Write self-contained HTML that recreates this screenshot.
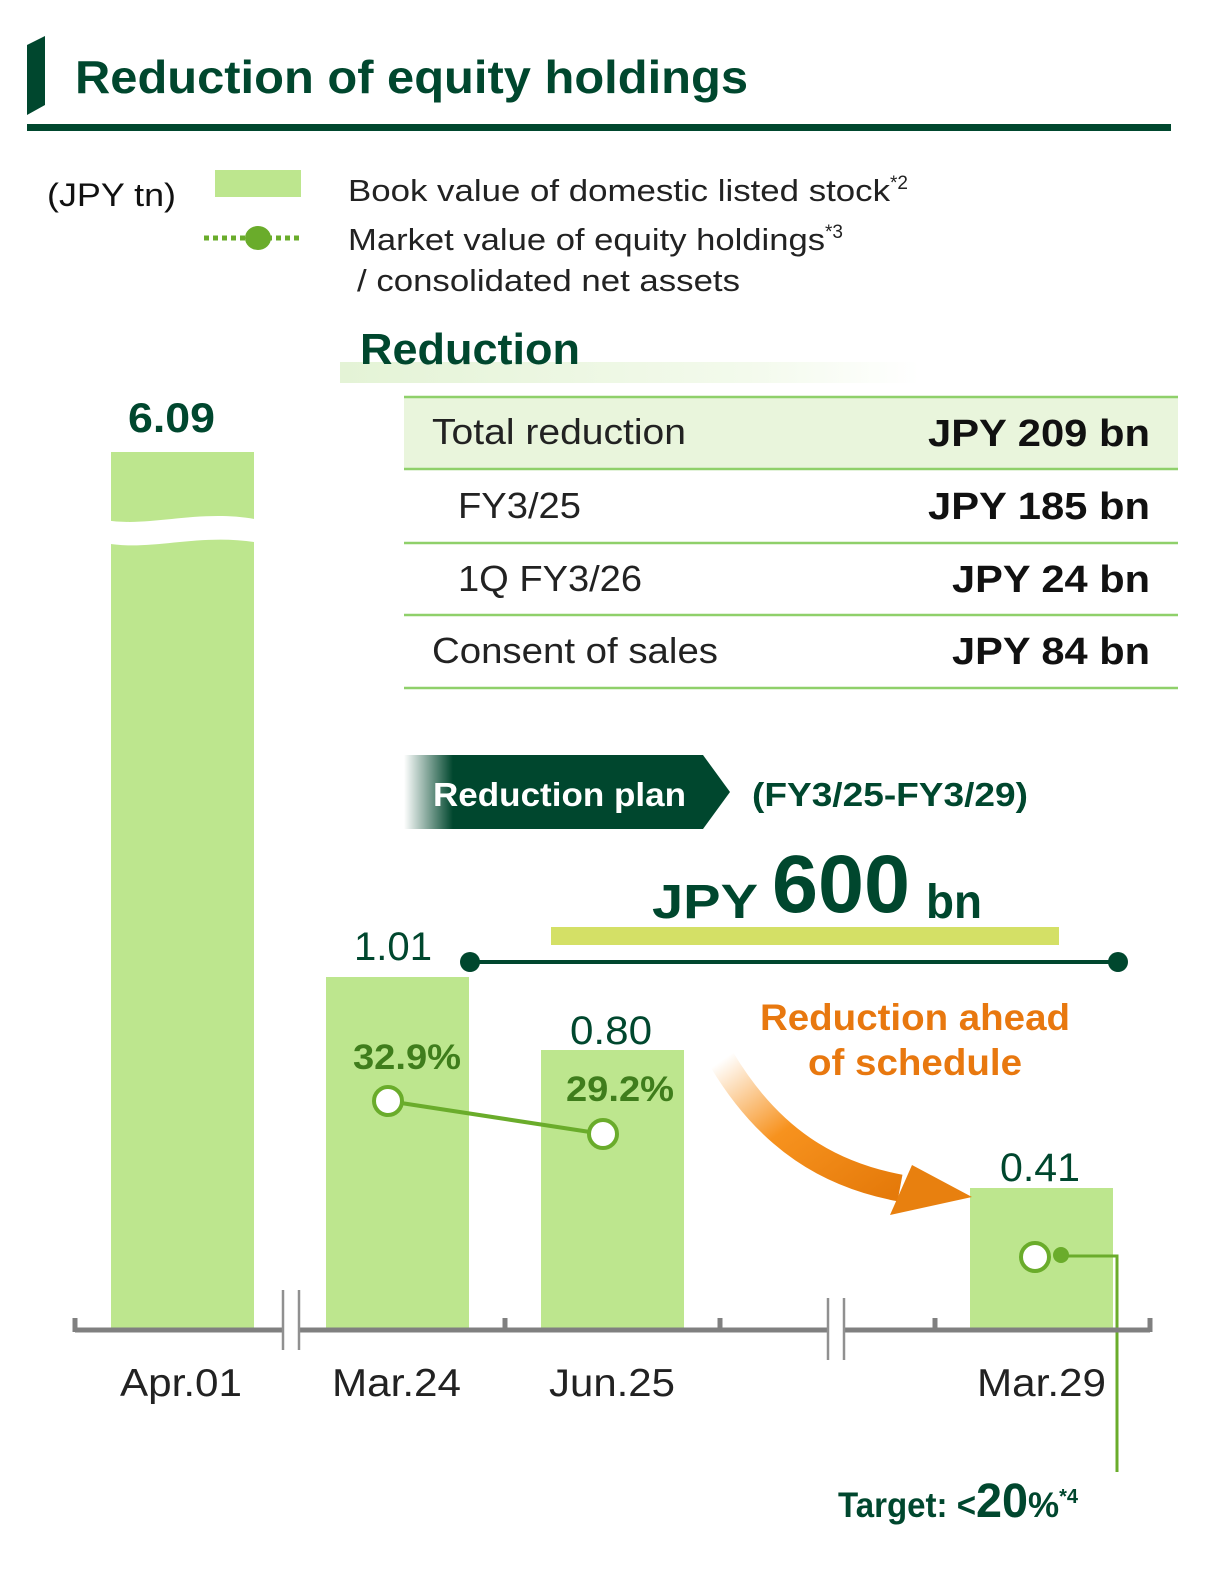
<!DOCTYPE html>
<html><head><meta charset="utf-8"><style>
html,body{margin:0;padding:0;background:#fff;width:1218px;height:1585px;overflow:hidden;}
svg{display:block;font-family:"Liberation Sans",Arial,sans-serif;}
</style></head><body>
<svg width="1218" height="1585" viewBox="0 0 1218 1585" xmlns="http://www.w3.org/2000/svg">
<defs>
<linearGradient id="rg" x1="0" x2="1" y1="0" y2="0">
<stop offset="0" stop-color="#e4f3d6"/><stop offset="0.7" stop-color="#f3faec"/><stop offset="1" stop-color="#fff"/>
</linearGradient>
<linearGradient id="bn" x1="0" x2="1" y1="0" y2="0">
<stop offset="0" stop-color="#00472e" stop-opacity="0"/><stop offset="0.15" stop-color="#00472e"/><stop offset="1" stop-color="#00472e"/>
</linearGradient>
<linearGradient id="og" x1="0" x2="1" y1="0" y2="1">
<stop offset="0" stop-color="#f7921e" stop-opacity="0"/><stop offset="0.45" stop-color="#f7921e"/><stop offset="1" stop-color="#e57a0a"/>
</linearGradient>
</defs>
<polygon points="27,45 45,36 45,105 27,115" fill="#00472e"/>
<text x="75" y="93" font-size="46" font-weight="bold" fill="#00472e" textLength="673" lengthAdjust="spacingAndGlyphs">Reduction of equity holdings</text>
<rect x="27" y="124" width="1144" height="7" fill="#00472e"/>
<text x="47" y="206" font-size="32" fill="#111" textLength="129" lengthAdjust="spacingAndGlyphs">(JPY tn)</text>
<rect x="215" y="170" width="86" height="27" fill="#bde68e"/>
<line x1="204" y1="238" x2="302" y2="238" stroke="#6aac2b" stroke-width="5" stroke-dasharray="5,4"/>
<ellipse cx="258" cy="238" rx="13" ry="12" fill="#6aac2b"/>
<text x="348" y="201" font-size="31" fill="#222"><tspan textLength="542" lengthAdjust="spacingAndGlyphs">Book value of domestic listed stock</tspan><tspan font-size="19" dy="-12">*2</tspan></text>
<text x="348" y="250" font-size="31" fill="#222"><tspan textLength="477" lengthAdjust="spacingAndGlyphs">Market value of equity holdings</tspan><tspan font-size="19" dy="-12">*3</tspan></text>
<text x="357" y="291" font-size="31" fill="#222" textLength="383" lengthAdjust="spacingAndGlyphs">/ consolidated net assets</text>
<rect x="340" y="362" width="580" height="21" fill="url(#rg)"/>
<text x="360" y="364" font-size="44" font-weight="bold" fill="#00472e" textLength="220" lengthAdjust="spacingAndGlyphs">Reduction</text>
<rect x="404" y="397" width="774" height="72" fill="#e9f5dc"/>
<g stroke="#8fd06a" stroke-width="2.5">
<line x1="404" y1="397" x2="1178" y2="397"/><line x1="404" y1="469" x2="1178" y2="469"/>
<line x1="404" y1="543" x2="1178" y2="543"/><line x1="404" y1="615" x2="1178" y2="615"/>
<line x1="404" y1="688" x2="1178" y2="688"/></g>
<g font-size="36" fill="#222" lengthAdjust="spacingAndGlyphs">
<text x="432" y="444" textLength="254" lengthAdjust="spacingAndGlyphs">Total reduction</text>
<text x="458" y="518" textLength="123" lengthAdjust="spacingAndGlyphs">FY3/25</text>
<text x="458" y="591" textLength="184" lengthAdjust="spacingAndGlyphs">1Q FY3/26</text>
<text x="432" y="663" textLength="286" lengthAdjust="spacingAndGlyphs">Consent of sales</text></g>
<g font-size="38" font-weight="bold" fill="#111">
<text x="928" y="446" textLength="222" lengthAdjust="spacingAndGlyphs">JPY 209 bn</text>
<text x="928" y="519" textLength="222" lengthAdjust="spacingAndGlyphs">JPY 185 bn</text>
<text x="952" y="592" textLength="198" lengthAdjust="spacingAndGlyphs">JPY 24 bn</text>
<text x="952" y="664" textLength="198" lengthAdjust="spacingAndGlyphs">JPY 84 bn</text></g>
<polygon points="404,755 703,755 730,792 703,829 404,829" fill="url(#bn)"/>
<text x="433" y="806" font-size="33" font-weight="bold" fill="#fff" textLength="253" lengthAdjust="spacingAndGlyphs">Reduction plan</text>
<text x="752" y="806" font-size="33" font-weight="bold" fill="#00472e" textLength="276" lengthAdjust="spacingAndGlyphs">(FY3/25-FY3/29)</text>
<rect x="551" y="927" width="508" height="18" fill="#d4e066"/>
<text x="652" y="918" font-size="48" font-weight="bold" fill="#00472e" textLength="106" lengthAdjust="spacingAndGlyphs">JPY</text>
<text x="772" y="912" font-size="82" font-weight="bold" fill="#00472e" textLength="138" lengthAdjust="spacingAndGlyphs">600</text>
<text x="926" y="918" font-size="48" font-weight="bold" fill="#00472e" textLength="56" lengthAdjust="spacingAndGlyphs">bn</text>
<line x1="470" y1="962" x2="1118" y2="962" stroke="#00472e" stroke-width="4"/>
<circle cx="470" cy="962" r="10" fill="#00472e"/><circle cx="1118" cy="962" r="10" fill="#00472e"/>
<g fill="#bde68e">
<rect x="111" y="452" width="143" height="878"/>
<rect x="326" y="977" width="143" height="353"/>
<rect x="541" y="1050" width="143" height="280"/>
<rect x="970" y="1188" width="143" height="142"/></g>
<path d="M105,520 C150,528 200,508 260,520 L260,543 C200,532 150,552 105,543 Z" fill="#fff"/>
<text x="128" y="432" font-size="42" font-weight="bold" fill="#00472e" textLength="87" lengthAdjust="spacingAndGlyphs">6.09</text>
<g font-size="40" fill="#00472e">
<text x="354" y="960" textLength="78" lengthAdjust="spacingAndGlyphs">1.01</text>
<text x="570" y="1044" textLength="82" lengthAdjust="spacingAndGlyphs">0.80</text>
<text x="1000" y="1181" textLength="80" lengthAdjust="spacingAndGlyphs">0.41</text></g>
<g font-size="35" font-weight="bold" fill="#3f7d1c">
<text x="353" y="1069" textLength="108" lengthAdjust="spacingAndGlyphs">32.9%</text>
<text x="566" y="1101" textLength="108" lengthAdjust="spacingAndGlyphs">29.2%</text></g>
<line x1="388" y1="1101" x2="603" y2="1134" stroke="#6aac2b" stroke-width="4"/>
<circle cx="388" cy="1101" r="14" fill="#fff" stroke="#6aac2b" stroke-width="4"/>
<circle cx="603" cy="1134" r="14" fill="#fff" stroke="#6aac2b" stroke-width="4"/>
<polyline points="1060,1256 1117,1256 1117,1472" fill="none" stroke="#6aac2b" stroke-width="3"/>
<circle cx="1035" cy="1257" r="14" fill="#fff" stroke="#6aac2b" stroke-width="4"/>
<circle cx="1061" cy="1255" r="8" fill="#6aac2b"/>
<path d="M722,1060 C770,1140 830,1175 900,1188" fill="none" stroke="url(#og)" stroke-width="27"/>
<polygon points="912,1165 972,1197 890,1215" fill="#e8800f"/>
<g font-size="37" font-weight="bold" fill="#e8780f">
<text x="760" y="1030" textLength="310" lengthAdjust="spacingAndGlyphs">Reduction ahead</text>
<text x="808" y="1075" textLength="214" lengthAdjust="spacingAndGlyphs">of schedule</text></g>
<g stroke="#808080" stroke-width="5" fill="none">
<line x1="75" y1="1330" x2="1150" y2="1330"/>
<line x1="75" y1="1318" x2="75" y2="1332"/><line x1="505" y1="1318" x2="505" y2="1332"/>
<line x1="720" y1="1318" x2="720" y2="1332"/><line x1="935" y1="1318" x2="935" y2="1332"/>
<line x1="1150" y1="1318" x2="1150" y2="1332"/></g>
<rect x="283" y="1320" width="16" height="20" fill="#fff"/>
<rect x="828" y="1320" width="16" height="20" fill="#fff"/>
<g stroke="#909090" stroke-width="2.5">
<line x1="283" y1="1290" x2="283" y2="1350"/><line x1="299" y1="1290" x2="299" y2="1350"/>
<line x1="828" y1="1298" x2="828" y2="1360"/><line x1="844" y1="1298" x2="844" y2="1360"/></g>
<g font-size="39" fill="#222">
<text x="120" y="1396" textLength="122" lengthAdjust="spacingAndGlyphs">Apr.01</text>
<text x="332" y="1396" textLength="129" lengthAdjust="spacingAndGlyphs">Mar.24</text>
<text x="549" y="1396" textLength="126" lengthAdjust="spacingAndGlyphs">Jun.25</text>
<text x="977" y="1396" textLength="129" lengthAdjust="spacingAndGlyphs">Mar.29</text></g>
<text x="838" y="1517" font-size="35" font-weight="bold" fill="#00472e"><tspan textLength="138" lengthAdjust="spacingAndGlyphs">Target: &lt;</tspan><tspan font-size="48" textLength="52" lengthAdjust="spacingAndGlyphs">20</tspan><tspan>%</tspan><tspan font-size="20" dy="-14">*4</tspan></text>
</svg>
</body></html>
